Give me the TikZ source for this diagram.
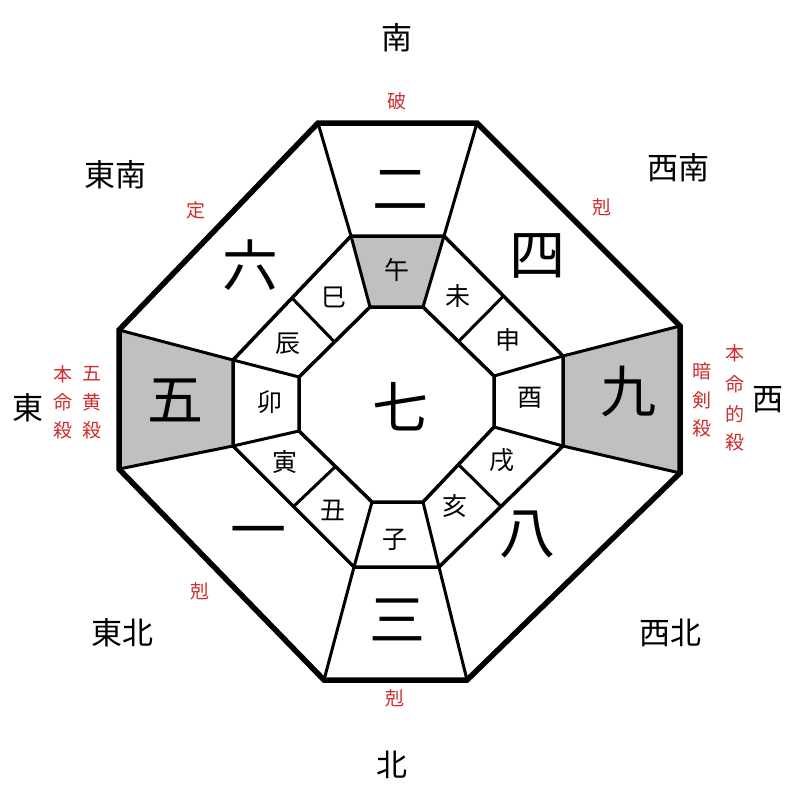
\documentclass[tikz,border=0pt]{standalone}
\usepackage{fontspec}
\setmainfont{Noto Sans CJK JP}
\usetikzlibrary{calc}
\definecolor{cellgray}{RGB}{192,192,192}
\definecolor{redtxt}{RGB}{205,45,45}
\tikzset{
  outerline/.style={line width=5.5pt, line join=miter},
  ringline/.style={line width=3.5pt, line join=miter},
  radline/.style={line width=3pt},
  dirlabel/.style={font=\fontsize{31}{31}\selectfont, inner sep=0pt},
  numlabel/.style={font=\fontsize{56}{56}\selectfont, inner sep=0pt},
  zlabel/.style={font=\fontsize{25}{25}\selectfont, inner sep=0pt},
  redlabel/.style={font=\fontsize{19}{19}\selectfont, text=redtxt, inner sep=0pt},
}
\begin{document}
\begin{tikzpicture}[x=1pt,y=-1pt]
\useasboundingbox (0,0) rectangle (800,800);
% outer
\coordinate (O1) at (318,123); \coordinate (O2) at (477,123);
\coordinate (O3) at (680,326); \coordinate (O4) at (680,473);
\coordinate (O5) at (467,680); \coordinate (O6) at (324,680);
\coordinate (O7) at (119,469); \coordinate (O8) at (119,330);
% middle
\coordinate (M1) at (351,236); \coordinate (M2) at (444,236);
\coordinate (M3) at (563,356); \coordinate (M4) at (563,446);
\coordinate (M5) at (439,567); \coordinate (M6) at (354,567);
\coordinate (M7) at (233,446); \coordinate (M8) at (233,360);
% inner
\coordinate (I1) at (370,307); \coordinate (I2) at (423,307);
\coordinate (I3) at (494,376); \coordinate (I4) at (494,427);
\coordinate (I5) at (423,502); \coordinate (I6) at (372,502);
\coordinate (I7) at (299,431); \coordinate (I8) at (299,377);
% gray cells
\fill[cellgray] (M1) -- (M2) -- (I2) -- (I1) -- cycle;
\fill[cellgray] (O8) -- (M8) -- (M7) -- (O7) -- cycle;
\fill[cellgray] (O3) -- (M3) -- (M4) -- (O4) -- cycle;
% radial lines
\draw[radline] (O1) -- (M1) -- (I1);
\draw[radline] (O2) -- (M2) -- (I2);
\draw[radline] (O3) -- (M3) -- (I3);
\draw[radline] (O4) -- (M4) -- (I4);
\draw[radline] (O5) -- (M5) -- (I5);
\draw[radline] (O6) -- (M6) -- (I6);
\draw[radline] (O7) -- (M7) -- (I7);
\draw[radline] (O8) -- (M8) -- (I8);
% zodiac dividers
\draw[radline] ($(M8)!0.5!(M1)$) -- ($(I8)!0.5!(I1)$);
\draw[radline] ($(M2)!0.5!(M3)$) -- ($(I2)!0.5!(I3)$);
\draw[radline] ($(M4)!0.5!(M5)$) -- ($(I4)!0.5!(I5)$);
\draw[radline] ($(M6)!0.5!(M7)$) -- ($(I6)!0.5!(I7)$);
% rings
\draw[ringline] (M1) -- (M2) -- (M3) -- (M4) -- (M5) -- (M6) -- (M7) -- (M8) -- cycle;
\draw[ringline] (I1) -- (I2) -- (I3) -- (I4) -- (I5) -- (I6) -- (I7) -- (I8) -- cycle;
\draw[outerline] (O1) -- (O2) -- (O3) -- (O4) -- (O5) -- (O6) -- (O7) -- (O8) -- cycle;
% numbers
\node[numlabel] (n2) at (400,190) {二};
\node[numlabel] (n4) at (537,256) {四};
\node[numlabel] (n9) at (628,392) {九};
\node[numlabel] (n8) at (527,535) {八};
\node[numlabel] (n3) at (397,620) {三};
\node[numlabel] (n1) at (258,538) {一};
\node[numlabel] (n5) at (175,400) {五};
\node[numlabel] (n6) at (250,265) {六};
\node[numlabel] (n7) at (400,407) {七};
% zodiac
\node[zlabel] (z1) at (397,270) {午};
\node[zlabel] (z2) at (458,296) {未};
\node[zlabel] (z3) at (508,340) {申};
\node[zlabel] (z4) at (530,398) {酉};
\node[zlabel] (z5) at (502,460) {戌};
\node[zlabel] (z6) at (455,506) {亥};
\node[zlabel] (z7) at (395,540) {子};
\node[zlabel] (z8) at (333,510) {丑};
\node[zlabel] (z9) at (285,462) {寅};
\node[zlabel] (z10) at (270,402) {卯};
\node[zlabel] (z11) at (288,344) {辰};
\node[zlabel] (z12) at (334,297) {巳};
% directions
\node[dirlabel] (dS) at (397,38) {南};
\node[dirlabel] (dN) at (392,765) {北};
\node[dirlabel] (dE) at (28,408) {東};
\node[dirlabel] (dW) at (768,400) {西};
\node[dirlabel] (dSE) at (115,175) {東南};
\node[dirlabel] (dSW) at (678,168) {西南};
\node[dirlabel] (dNE) at (122,633) {東北};
\node[dirlabel] (dNW) at (670,633) {西北};
% red labels
\node[redlabel] (r1) at (397,101) {破};
\node[redlabel] (r2) at (196,210) {定};
\node[redlabel] (r3) at (602,207) {剋};
\node[redlabel] (r4) at (200,591) {剋};
\node[redlabel] (r5) at (395,698) {剋};
\node[redlabel] (e1) at (63,374) {本};
\node[redlabel] (e2) at (63,402) {命};
\node[redlabel] (e3) at (63,430) {殺};
\node[redlabel] (e4) at (92,374) {五};
\node[redlabel] (e5) at (92,402) {黄};
\node[redlabel] (e6) at (92,430) {殺};
\node[redlabel] (w1) at (702,371) {暗};
\node[redlabel] (w2) at (702,400) {剣};
\node[redlabel] (w3) at (702,428) {殺};
\node[redlabel] (w4) at (735,353) {本};
\node[redlabel] (w5) at (735,384) {命};
\node[redlabel] (w6) at (735,414) {的};
\node[redlabel] (w7) at (735,442) {殺};
\end{tikzpicture}
\end{document}
